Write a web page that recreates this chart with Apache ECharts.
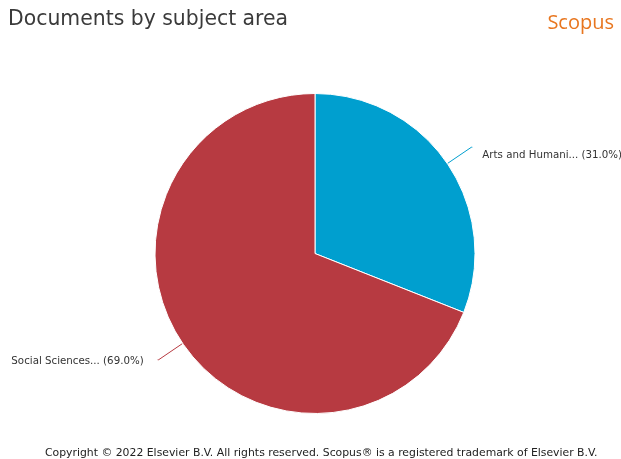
<!DOCTYPE html>
<html><head><meta charset="utf-8">
<script src="https://cdn.jsdelivr.net/npm/echarts@6/dist/echarts.min.js"></script>
<style>html,body{margin:0;padding:0;background:#fff}#c{width:621px;height:459px}</style>
</head><body><div id="c"></div>
<script>
const categories = ["Arts and Humani...", "Social Sciences..."];
const values = [31.0, 69.0];
const colors = ["#009fcf", "#b73a41"];

const chart = echarts.init(document.getElementById('c'));
chart.setOption({
  animation: false,
  title: [
    {text: 'Documents by subject area', left: 3, top: 5,
     textStyle: {fontFamily: 'DejaVu Sans', fontSize: 20.4, fontWeight: 'normal', color: '#3a3a3a'}},
    {text: 'Scopus', right: 2, top: 8,
     textStyle: {fontFamily: 'Open Sans', fontSize: 20, fontWeight: 'normal', color: '#e8761f'}},
    {text: 'Copyright © 2022 Elsevier B.V. All rights reserved. Scopus® is a registered trademark of Elsevier B.V.',
     left: 40, top: 443,
     textStyle: {fontFamily: 'DejaVu Sans', fontSize: 10.85, fontWeight: 'normal', color: '#222'}}
  ],
  series: [{
    type: 'pie',
    center: [315, 253.5],
    radius: [0, 160],
    startAngle: 90,
    clockwise: true,
    data: categories.map((c, i) => ({
      name: c, value: values[i], itemStyle: {color: colors[i]}
    })),
    itemStyle: {borderColor: '#fff', borderWidth: 1},
    label: {
      show: true,
      overflow: 'none',
      formatter: p => p.name + ' (' + p.value.toFixed(1) + '%)',
      fontFamily: 'DejaVu Sans', fontSize: 10.25, color: '#333',
      distanceToLabelLine: 6
    },
    labelLayout: p => (p.dataIndex === 0 ? {dx: 4, dy: 8} : {dx: -8, dy: 2}),
    labelLine: {show: true, length: 29, length2: 1, smooth: false, lineStyle: {width: 1}},
    emphasis: {disabled: true}
  }]
});
</script></body></html>
